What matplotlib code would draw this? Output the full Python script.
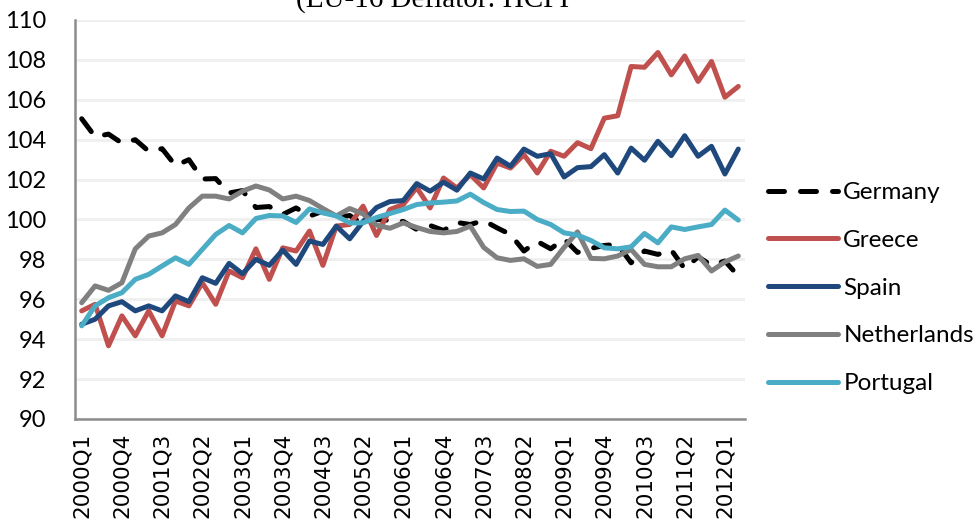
import matplotlib
matplotlib.use("Agg")
import matplotlib.pyplot as plt
import numpy as np

# quarterly index, 2000Q1 .. 2012Q2
quarters = ["%dQ%d" % (y, q) for y in range(2000, 2013) for q in range(1, 5)][:50]

germany = [105.05, 104.15, 104.28, 103.83, 104.0, 103.42, 103.55, 102.7, 103.0, 102.03,
           102.05, 101.33, 101.45, 100.6, 100.65, 100.25, 100.58, 100.17, 100.42, 100.1,
           100.2, 99.75, 100.0, 99.95, 99.9, 99.5, 99.7, 99.45, 99.85, 99.75,
           99.95, 99.58, 99.25, 98.42, 98.9, 98.53, 99.03, 98.35, 98.55, 98.7,
           98.75, 97.83, 98.42, 98.25, 98.47, 97.53, 98.13, 97.7, 97.92, 97.17]
greece = [95.42, 95.75, 93.67, 95.17, 94.17, 95.42, 94.17, 95.92, 95.67, 96.83,
          95.75, 97.42, 97.08, 98.53, 97.0, 98.58, 98.42, 99.42, 97.7, 99.67,
          99.75, 100.67, 99.2, 100.5, 100.75, 101.6, 100.58, 102.08, 101.58, 102.25,
          101.58, 102.83, 102.58, 103.25, 102.33, 103.42, 103.17, 103.85, 103.55, 105.08,
          105.2, 107.67, 107.63, 108.37, 107.25, 108.2, 106.92, 107.92, 106.13, 106.67]
spain = [94.75, 95.0, 95.67, 95.88, 95.42, 95.67, 95.42, 96.17, 95.88, 97.08,
         96.8, 97.8, 97.28, 98.0, 97.7, 98.47, 97.75, 98.92, 98.75, 99.67,
         99.03, 99.9, 100.6, 100.9, 100.95, 101.8, 101.42, 101.87, 101.47, 102.33,
         102.03, 103.08, 102.67, 103.53, 103.17, 103.3, 102.13, 102.6, 102.65, 103.25,
         102.33, 103.58, 102.97, 103.92, 103.2, 104.2, 103.17, 103.67, 102.28, 103.53]
netherlands = [95.83, 96.67, 96.45, 96.83, 98.53, 99.17, 99.33, 99.75, 100.58, 101.17,
               101.17, 101.03, 101.42, 101.68, 101.48, 101.03, 101.17, 100.95, 100.55, 100.18,
               100.55, 100.28, 99.72, 99.56, 99.83, 99.6, 99.4, 99.33, 99.4, 99.67,
               98.6, 98.08, 97.95, 98.03, 97.65, 97.75, 98.6, 99.38, 98.05, 98.03,
               98.17, 98.5, 97.75, 97.63, 97.63, 98.03, 98.2, 97.42, 97.87, 98.17]
portugal = [94.67, 95.67, 96.08, 96.33, 97.0, 97.25, 97.67, 98.08, 97.75, 98.5,
            99.25, 99.7, 99.33, 100.05, 100.2, 100.18, 99.85, 100.53, 100.33, 100.18,
            99.83, 99.83, 100.1, 100.3, 100.5, 100.75, 100.83, 100.87, 100.93, 101.27,
            100.85, 100.5, 100.4, 100.42, 100.0, 99.75, 99.33, 99.22, 98.95, 98.58,
            98.53, 98.63, 99.3, 98.83, 99.63, 99.5, 99.63, 99.75, 100.47, 99.97]

yticks = [90, 92, 94, 96, 98, 100, 102, 104, 106, 108, 110]

fig = plt.figure(figsize=(9.79, 5.25), dpi=100)
ax = fig.add_axes([75 / 979, 1 - 419 / 525, 670 / 979, 399 / 525])

x = np.arange(len(quarters))
lw = 3.6
ax.plot(x, germany, color="black", lw=lw, dashes=(3.2, 3.2),
        dash_capstyle="round", label="Germany")
ax.plot(x, greece, color="#C0504D", lw=lw, solid_capstyle="round", label="Greece")
ax.plot(x, spain, color="#1F497D", lw=lw, solid_capstyle="round", label="Spain")
ax.plot(x, netherlands, color="#808080", lw=lw, solid_capstyle="round", label="Netherlands")
ax.plot(x, portugal, color="#4BACC6", lw=lw, solid_capstyle="round", label="Portugal")

ax.set_xlim(-0.5, len(quarters) - 0.5)
ax.set_ylim(90, 110)
ax.set_yticks(yticks)
ax.set_yticklabels([str(v) for v in yticks], fontsize=17, family="Lato")
ax.set_xticks(x[::3])
ax.set_xticklabels(quarters[::3], rotation=90, fontsize=15.5, family="DejaVu Sans")
ax.tick_params(axis="both", length=0)
ax.tick_params(axis="y", pad=21)
ax.tick_params(axis="x", pad=10)

ax.grid(axis="y", color="#EFEFEF", lw=2)
ax.set_axisbelow(True)
for s in ["top", "right"]:
    ax.spines[s].set_visible(False)
for s in ["left", "bottom"]:
    ax.spines[s].set_color("#8C8C8C")
    ax.spines[s].set_linewidth(1.8)

leg = fig.legend(loc="center left", bbox_to_anchor=(768 / 979, 1 - 288 / 525),
                 frameon=False, prop={"family": "Lato", "size": 17.5},
                 handlelength=2.9, handletextpad=0.2, labelspacing=1.1,
                 borderaxespad=0, borderpad=0)

fig.text(433 / 979, 1 - 8 / 525, "(EU-16 Deflator: HCPI", ha="center", va="baseline",
         fontsize=21, family="Liberation Serif")

fig.savefig("out.png", dpi=100)
